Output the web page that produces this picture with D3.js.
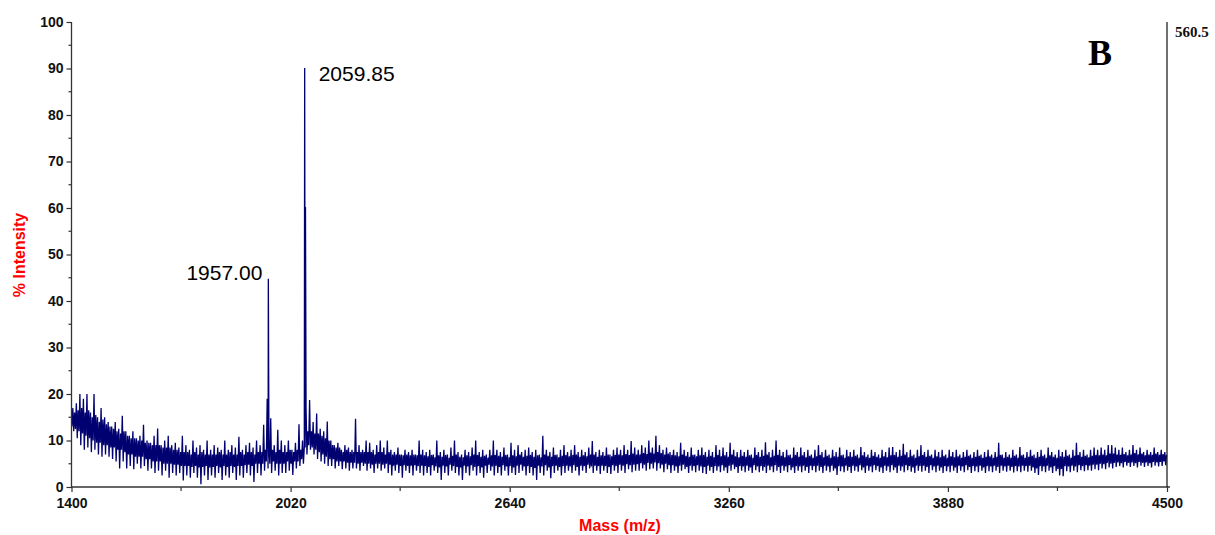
<!DOCTYPE html>
<html>
<head>
<meta charset="utf-8">
<script src="https://cdn.jsdelivr.net/npm/d3@7"></script>
<style>
  body { margin: 0; background: #ffffff; }
  svg { display: block; }
</style>
</head>
<body>
<svg id="chart" width="1215" height="535"></svg>
<script>
// Spectrum summarised per 10 m/z bin, starting at 1400:
// extremes (binMin / binMax) and the dense part of the noise (bandLow / bandHigh), in % intensity
const binStart = 1400;
const binWidth = 10;

const binMax = [
  17,18,20,19,20,16,20,15,17,15,
  14,13,14,12.5,15.3,12,11,12,10.5,11,
  13.4,10,9.5,11,12.6,9,10,11,9,9.5,
  8.5,11,9,8,10,8.5,9,8,10,8,
  9,8.5,8,10,8,9,8.5,10.8,8,9,
  9.5,8.5,10,9,13.4,19,14.8,9,12.3,10,
  9,10,8,9.5,13.5,10,17,18.7,14,15.8,
  12.5,12,14.1,10,9,9.5,8,9,8.5,8,
  14.7,9,8,10,9.5,8,9,10,8.5,10,
  8,7.5,8.5,7,8,7.5,8,7,10,8,
  7.5,8,7,10,7.5,8,7,8.5,10,7.5,
  7,8,7.5,8.5,10,7.5,8,7,8,10,
  8,7.5,8.5,7,9.5,8,9,7.5,8,8.5,
  7.5,8,7,11,8,7.5,8.5,7,8,9,
  7.5,8,9,7.5,8,7.5,8.5,9.9,7.5,8,
  7.5,8.5,7,8,8.5,8,9,8,9.9,8.5,
  8,9,8.5,10,8.5,11,9,8,8.5,7.5,
  8,7.5,9.5,8,7.5,8.5,7,8,8.5,7.5,
  8,7.5,9,8,8.5,7.5,9.5,8,7.5,8,
  7.5,8,7,8.5,7.5,8,9.6,7.5,8,10,
  8,7.5,8,7,8.5,7.5,8.5,7.5,8,7,
  8,9,7.5,8,7,8,7.5,8.5,7,8,
  7.5,8,7,8.6,7.5,7,8,7.5,7,8,
  7.5,8.5,8.6,7.5,8,9.3,7.5,8,7,8,
  9,7.5,8,7,8,7.5,8,7,8,7.5,
  8,7,7.5,8,7,7.5,8,7,7.5,8,
  7,7.5,9.5,7,7.5,7,8,7,8.6,7,
  7.5,8,7,7.5,8,7,8.5,7.5,7,8,
  7.5,8,7,8,9.5,7.5,8,7,8,8.5,
  8,8.5,8,9,9,8.5,8,8.5,7.5,8,
  9,8,8.5,7.5,8,7.5,8.5,7.5,8,7.5
];

const binMin = [
  12,10.5,9,8,8.5,7.5,8,7,6.5,7,
  6.5,6,5.5,4,5.5,4,4.5,3.8,5,4,
  4.5,3.5,4,3,3.5,2.5,3.5,2,3,2.5,
  3,1.4,2.5,2,3,2,0.6,2.5,1.5,2.5,
  2,3,1.5,2.5,2,3,1.5,2.5,2,3,
  2.5,1.1,3,2.5,3.5,4,3,3.5,2.5,3,
  3,3.5,2.6,4,4.5,5,7,8,7,6,
  5.5,5,4.5,4.5,4,4.5,3.8,4,3.5,4,
  4,3.5,4.5,3.5,4,3,4,3.5,4,3,
  2.5,3.5,3,2,3.5,3,2.5,3.5,3,2.5,
  3,2.5,3.5,3,1.5,3,2.5,3.5,3,2.5,
  1.5,3,2.5,3.5,2.5,3,2,3,3.5,2.5,
  3,2.5,3.5,2.5,3,2.6,3,3.5,2.5,3,
  2.5,1.5,3,2.5,3.5,1.9,3,3.5,2.5,3,
  3.5,3,3.5,2.5,3.5,3,4,3,3.5,2.8,
  3.5,3,2.8,3.5,3,3.5,3,3.8,3.2,3.5,
  3.5,4,3.5,3.8,4,3.5,4,3.2,3.8,3,
  3.5,3,3.5,3.8,3,3.5,3.2,3.5,3,2.8,
  3.5,3,3.5,3.2,3.5,3,3.5,3.8,3,3.5,
  3.2,3.5,3,3.6,3.2,3.5,3,3.6,3.2,3.5,
  3,3.5,3.2,3.6,3,3.5,3.2,3.5,3,3.6,
  3.2,3.5,3,3.5,3.2,3.5,2.6,3.4,3.2,3.5,
  3,3.5,3.3,3.6,3,3.5,3.2,3.6,3.3,3,
  3.5,3.2,3.6,3,3.5,3.2,3.6,3.3,3,3.5,
  3.3,3.5,3,3.6,3.2,3.5,3,3.4,3.2,3.5,
  3,3.5,3.2,3.6,3,3.4,3.2,3.5,3,3.4,
  3.2,3.5,3,3.5,3.3,3.5,3.1,3.4,3.2,3.5,
  3.3,3.5,3,2.6,3.4,3.2,3.5,3,3.4,2.5,
  2.3,3.4,3.2,3.5,3.2,3.6,3.4,3.6,3.5,3.8,
  3.6,4,3.8,4.2,4,4.3,4.5,4.2,4.6,4.3,
  4.5,4.2,4.6,4.3,4.5,4.2,4.6,4.4,4.5,4.7
];

const bandHigh = [
  16,16.5,17,16,16.5,15,15.5,14,14.5,13.5,
  13,12.5,12,11.5,12,11,10.5,10.5,10,10,
  9.5,9.5,9,9,9,8.5,8.5,8.5,8,8,
  7.5,7.5,7.5,7,7.5,7,7.5,7,7,7,
  7,7.5,7,7,7.5,7,7,7.5,7,7.5,
  7.5,7,7.5,7.5,8,8.5,8,7.5,8,7.5,
  7.5,8,7.5,8,8,8.5,12,12,11.5,11.5,
  11,10.5,10,9,8.5,8.5,7.5,8,7.5,7.5,
  7.5,7.5,7.5,7.5,7.5,7,7.5,7.5,7,7.5,
  7,7,7,6.8,7,6.8,7,6.8,7,6.8,
  6.6,6.9,6.4,6.8,6.5,6.9,6.3,6.7,7,6.5,
  6.4,6.8,6.6,7,6.9,6.5,6.7,6.3,6.8,6.9,
  6.7,6.5,6.9,6.4,6.8,6.6,7,6.5,6.7,6.9,
  6.5,6.8,6.4,7,6.7,6.5,6.9,6.4,6.7,6.9,
  6.6,6.9,7,6.5,6.8,6.6,7,7,6.5,6.8,
  6.7,7,6.6,6.9,7,6.8,7.1,6.9,7.2,7,
  7,7.3,7.1,7.4,7.2,7.5,7.3,7,7.2,6.9,
  6.8,6.6,7,6.7,6.5,6.9,6.6,6.8,6.9,6.5,
  6.7,6.4,6.9,6.6,6.8,6.5,7,6.6,6.4,6.7,
  6.5,6.8,6.3,6.9,6.5,6.7,7,6.4,6.7,6.9,
  6.7,6.4,6.8,6.3,6.9,6.5,6.8,6.4,6.7,6.3,
  6.6,6.9,6.4,6.7,6.3,6.6,6.5,6.8,6.3,6.6,
  6.5,6.7,6.3,6.8,6.5,6.3,6.7,6.5,6.3,6.6,
  6.4,6.8,6.9,6.5,6.7,7,6.4,6.7,6.3,6.6,
  6.9,6.5,6.7,6.3,6.6,6.4,6.7,6.3,6.6,6.4,
  6.6,6.3,6.5,6.7,6.3,6.5,6.7,6.3,6.5,6.6,
  6.3,6.5,6.9,6.3,6.5,6.3,6.7,6.3,6.8,6.3,
  6.5,6.7,6.3,6.5,6.7,6.3,6.8,6.5,6.3,6.6,
  6.5,6.7,6.3,6.7,6.9,6.5,6.7,6.4,6.7,6.9,
  6.8,7,6.8,7.2,7.2,7,6.9,7.1,6.8,7,
  7.3,7,7.2,6.8,7,6.9,7.2,6.9,7.1,6.9
];

const bandLow = [
  13,12.5,12,11.5,11,10.5,10,9.5,9.5,9,
  9,8.5,8.5,8,8,7.5,7,7,6.5,6.5,
  6.5,6,6,5.5,5.5,5.5,5,5,5,4.8,
  4.8,4.5,4.5,4.5,4.3,4.5,4.2,4.3,4.5,4.2,
  4.3,4.5,4.2,4.5,4.3,4.5,4.3,4.5,4.5,4.7,
  4.8,4.5,5,5,5,5.5,5,5.5,5,5,
  5,5.5,5,5.5,5.5,6,8.5,9,8.5,8,
  7.5,7,6.5,6,6,5.5,5.5,5.5,5.2,5.2,
  5.2,5,5.2,5,5,4.8,5,5,4.8,5,
  4.8,4.6,4.8,4.5,4.7,4.5,4.6,4.7,4.5,4.6,
  4.5,4.3,4.7,4.4,4.2,4.6,4.4,4.8,4.5,4.3,
  4.2,4.6,4.4,4.7,4.3,4.5,4.2,4.6,4.8,4.4,
  4.6,4.3,4.7,4.4,4.5,4.2,4.6,4.8,4.4,4.5,
  4.3,4.1,4.6,4.4,4.7,4.2,4.5,4.6,4.3,4.5,
  4.6,4.4,4.7,4.3,4.6,4.5,4.8,4.4,4.6,4.5,
  4.6,4.5,4.3,4.7,4.5,4.8,4.6,4.9,4.7,4.8,
  4.9,5.1,4.8,5.2,5,5.3,5.1,4.8,5,4.7,
  4.7,4.4,4.6,4.8,4.3,4.6,4.5,4.7,4.4,4.3,
  4.6,4.3,4.5,4.4,4.7,4.2,4.6,4.8,4.3,4.5,
  4.4,4.6,4.2,4.7,4.4,4.5,4.3,4.6,4.4,4.7,
  4.3,4.6,4.4,4.7,4.2,4.5,4.4,4.6,4.3,4.6,
  4.5,4.6,4.3,4.6,4.4,4.6,4,4.5,4.4,4.6,
  4.3,4.6,4.4,4.7,4.2,4.6,4.4,4.7,4.5,4.2,
  4.6,4.4,4.7,4.2,4.6,4.4,4.7,4.5,4.2,4.6,
  4.5,4.6,4.3,4.7,4.4,4.6,4.2,4.5,4.4,4.6,
  4.2,4.6,4.4,4.7,4.3,4.5,4.4,4.6,4.2,4.5,
  4.4,4.6,4.3,4.6,4.4,4.6,4.3,4.5,4.4,4.6,
  4.5,4.6,4.2,4,4.5,4.4,4.6,4.2,4.5,3.9,
  3.9,4.5,4.4,4.6,4.4,4.7,4.5,4.7,4.6,4.8,
  4.8,5,4.9,5.2,5,5.2,5.3,5.1,5.4,5.2,
  5.3,5.1,5.4,5.2,5.3,5.1,5.4,5.3,5.4,5.5
];

// Resolved peaks (m/z, % intensity); labelled ones carry their m/z as text
const peakMz        = [1957.00, 2059.85, 2062.10];
const peakIntensity = [44.8,    90.1,    60.2];
const peakLabelled  = [true,    true,    false];

const xTicks = [1400, 2020, 2640, 3260, 3880, 4500];
const yTicks = [0, 10, 20, 30, 40, 50, 60, 70, 80, 90, 100];
const maxCountsLabel = "560.5";
const panelLetter = "B";

const svg = d3.select("#chart");
const plot = { left: 71.5, right: 1167, top: 22, bottom: 487 };

const x = d3.scaleLinear().domain([1400, 4500]).range([plot.left, plot.right]);
const y = d3.scaleLinear().domain([0, 100]).range([plot.bottom, plot.top]);

const axisColor = "#333333";
const traceColor = "#000070";
const tickFont = "'Liberation Sans', Arial, sans-serif";

// Trace through each bin: band low, highest point, lowest point, band high
const trace = [];
binMax.forEach((hi, i) => {
  const m0 = binStart + i * binWidth;
  trace.push({ mz: m0 + 1.25, v: bandLow[i] });
  trace.push({ mz: m0 + 3.75, v: hi });
  trace.push({ mz: m0 + 6.25, v: binMin[i] });
  trace.push({ mz: m0 + 8.75, v: bandHigh[i] });
});
peakMz.forEach((mz, k) => trace.push({ mz, v: peakIntensity[k] }));
trace.sort((a, b) => a.mz - b.mz);

const line = d3.line().x(d => x(d.mz)).y(d => y(d.v));
svg.append("path")
  .datum(trace)
  .attr("d", line)
  .attr("fill", "none")
  .attr("stroke", traceColor)
  .attr("stroke-width", 1.3)
  .attr("stroke-linejoin", "miter");

// Left axis with minor ticks at the halves
const yAxis = d3.axisLeft(y).tickValues(yTicks).tickSize(5).tickPadding(3).tickFormat(d3.format("d"));
const gy = svg.append("g").attr("transform", `translate(${plot.left},0)`).call(yAxis);
gy.select(".domain").remove();
gy.selectAll(".tick line").attr("stroke", axisColor).attr("stroke-width", 1.2);
gy.selectAll(".tick text")
  .attr("fill", "#111").attr("font-family", tickFont).attr("font-weight", "bold").attr("font-size", 14);
const yMinor = d3.range(5, 100, 10);
gy.selectAll(".minor").data(yMinor).enter().append("line")
  .attr("x1", -3).attr("x2", 0)
  .attr("y1", d => y(d)).attr("y2", d => y(d))
  .attr("stroke", axisColor).attr("stroke-width", 1.2);
svg.append("line")
  .attr("x1", plot.left).attr("x2", plot.left)
  .attr("y1", plot.top).attr("y2", plot.bottom + 1)
  .attr("stroke", axisColor).attr("stroke-width", 1.3);

// Bottom axis with minor ticks between labels
const xAxis = d3.axisBottom(x).tickValues(xTicks).tickSize(5).tickPadding(6).tickFormat(d3.format("d"));
const gx = svg.append("g").attr("transform", `translate(0,${plot.bottom})`).call(xAxis);
gx.select(".domain").remove();
gx.selectAll(".tick line").attr("stroke", axisColor).attr("stroke-width", 1.2);
gx.selectAll(".tick text")
  .attr("fill", "#111").attr("font-family", tickFont).attr("font-weight", "bold").attr("font-size", 14);
const xMinor = xTicks.slice(0, -1).map((t, i) => (t + xTicks[i + 1]) / 2);
gx.selectAll(".minor").data(xMinor).enter().append("line")
  .attr("x1", d => x(d)).attr("x2", d => x(d))
  .attr("y1", 0).attr("y2", 4)
  .attr("stroke", axisColor).attr("stroke-width", 1.2);
svg.append("line")
  .attr("x1", plot.left).attr("x2", plot.right + 3)
  .attr("y1", plot.bottom).attr("y2", plot.bottom)
  .attr("stroke", axisColor).attr("stroke-width", 1.5);

// Right-hand frame line with the absolute maximum
svg.append("line")
  .attr("x1", plot.right).attr("x2", plot.right)
  .attr("y1", plot.top).attr("y2", plot.bottom)
  .attr("stroke", "#111").attr("stroke-width", 1.2);
svg.append("text")
  .attr("x", plot.right + 8).attr("y", 37)
  .attr("font-family", "'Liberation Serif', 'Times New Roman', serif")
  .attr("font-weight", "bold").attr("font-size", 15).attr("fill", "#111")
  .text(maxCountsLabel);

// Panel letter
svg.append("text")
  .attr("x", 1100).attr("y", 65).attr("text-anchor", "middle")
  .attr("font-family", "'Liberation Serif', 'Times New Roman', serif")
  .attr("font-weight", "bold").attr("font-size", 36).attr("fill", "#000")
  .text(panelLetter);

// Axis titles
svg.append("text")
  .attr("transform", `translate(25,255) rotate(-90)`)
  .attr("text-anchor", "middle")
  .attr("font-family", tickFont).attr("font-weight", "bold").attr("font-size", 16)
  .attr("fill", "#ff0000")
  .text("% Intensity");
svg.append("text")
  .attr("x", 620).attr("y", 531).attr("text-anchor", "middle")
  .attr("font-family", tickFont).attr("font-weight", "bold").attr("font-size", 16)
  .attr("fill", "#ff0000")
  .text("Mass (m/z)");

// Peak annotations
const fmt = d3.format(".2f");
peakMz.forEach((mz, k) => {
  if (!peakLabelled[k]) return;
  const px = x(mz), py = y(peakIntensity[k]);
  const right = mz > 2000;
  svg.append("text")
    .attr("x", right ? px + 14 : px - 6)
    .attr("y", right ? py + 13 : py + 1)
    .attr("text-anchor", right ? "start" : "end")
    .attr("font-family", tickFont).attr("font-size", 21).attr("fill", "#000")
    .text(fmt(mz));
});
</script>
</body>
</html>
